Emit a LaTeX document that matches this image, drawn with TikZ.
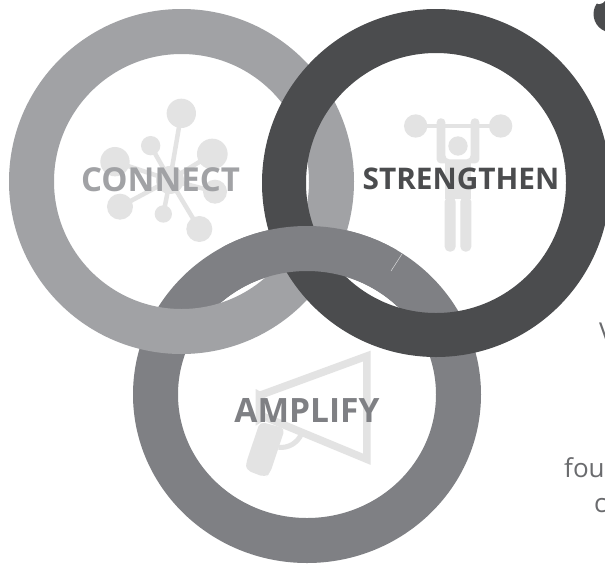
\documentclass[tikz,border=0pt]{standalone}
\usepackage{fontspec}
\setmainfont{Open Sans}
\definecolor{ringA}{HTML}{A1A2A5}
\definecolor{ringB}{HTML}{4B4C4E}
\definecolor{ringC}{HTML}{7F8084}
\definecolor{icon}{HTML}{E3E3E3}
\definecolor{body}{HTML}{6A6B6E}
\tikzset{
  ringlabel/.style={font=\fontsize{#1}{36}\selectfont\bfseries, inner sep=0pt},
  sidetext/.style={font=\fontsize{26}{32}\selectfont, text=body, inner sep=0pt, anchor=base west}
}
\newcommand{\ringA}{\fill[ringA, even odd rule] (181.5,181.5) circle[radius=172.5] (181.5,181.5) circle[radius=127.5];}
\newcommand{\ringB}{\fill[ringB, even odd rule] (436,183) circle[radius=174] (436,183) circle[radius=130];}
\newcommand{\ringC}{\fill[ringC, even odd rule] (307,394.5) ellipse[x radius=174, y radius=168.5] (307,394.5) ellipse[x radius=129, y radius=123.5];}
\begin{document}
\begin{tikzpicture}[x=1pt,y=-1pt]
\useasboundingbox (0,0) rectangle (605,563);
\clip (0,0) rectangle (605,563);
\fill[white] (0,0) rectangle (605,563);
% connect icon
\begin{scope}[shift={(60,80)}, x=0.3333pt, y=-0.3333pt]
  \foreach \px/\py in {364/100,272/197,457/222,165/245,180/380,310/402,418/447,465/335}
    \draw[draw=icon, line width=4.5pt] (330,300) -- (\px,\py);
  \fill[icon] (330,300) circle[radius=42];
  \fill[icon] (364,100) circle[radius=44];
  \fill[icon] (272,197) circle[radius=29];
  \fill[icon] (457,222) circle[radius=46];
  \fill[icon] (165,245) circle[radius=44];
  \fill[icon] (180,380) circle[radius=39];
  \fill[icon] (310,402) circle[radius=26];
  \fill[icon] (418,447) circle[radius=39];
  \fill[icon] (465,335) circle[radius=36];
\end{scope}
% strengthen icon
\begin{scope}[shift={(340,0)}, x=0.3333pt, y=-0.3333pt]
  \fill[icon] (227,378) circle[radius=35];
  \fill[icon] (482,378) circle[radius=35];
  \draw[draw=icon, line width=4pt] (227,378) -- (482,378);
  \fill[icon, rounded corners=4pt] (290,490) -- (290,355) -- (316,355) -- (316,478) -- (392,478) -- (392,355) -- (418,355) -- (418,490) -- cycle;
  \fill[icon] (354,438) circle[radius=29];
  \fill[icon] (314,480) rectangle (394,597);
  \fill[icon, rounded corners=5pt] (314,590) rectangle (347,755);
  \fill[icon, rounded corners=5pt] (361,590) rectangle (394,755);
\end{scope}
% amplify icon
\begin{scope}[shift={(220,320)}, x=0.3333pt, y=-0.3333pt]
  \draw[draw=icon, line width=7.5pt, line join=miter] (441,108) -- (441,418) -- (125,287) -- (125,224) -- cycle;
  \fill[icon] (107,207) -- (135,222) -- (135,300) -- (107,317) -- cycle;
  \fill[icon, rounded corners=5pt] (120,305) -- (78,430) -- (78,450) -- (135,472) -- (150,460) -- (195,325) -- cycle;
  \draw[draw=icon, line width=5pt] (175,382) .. controls (205,385) and (230,370) .. (243,345);
\end{scope}
% rings with their interlacing
\ringC
\ringA
\ringB
\begin{scope}
  \clip (222,200) rectangle (397,305);
  \ringC
\end{scope}
\draw[white!70!ringC, line width=0.5pt] (391,271) -- (402,254);
% labels
\node[ringlabel=33, text=ringA] (connect) at (160.5,180) {CONNECT};
\node[ringlabel=29.8, text=ringB] (strengthen) at (461,179) {STRENGTHEN};
\node[ringlabel=33.5, text=ringC] (amplify) at (307,410) {AMPLIFY};
% blob and cut-off text at the right edge
\fill[ringB] (612,14) circle[radius=18.5];
\fill[white] (599,-3) circle[radius=7];
\node[sidetext] (v) at (599,341) {V};
\node[sidetext] (four) at (564,477) {four};
\node[sidetext] (c) at (594,512) {c};
\end{tikzpicture}
\end{document}
